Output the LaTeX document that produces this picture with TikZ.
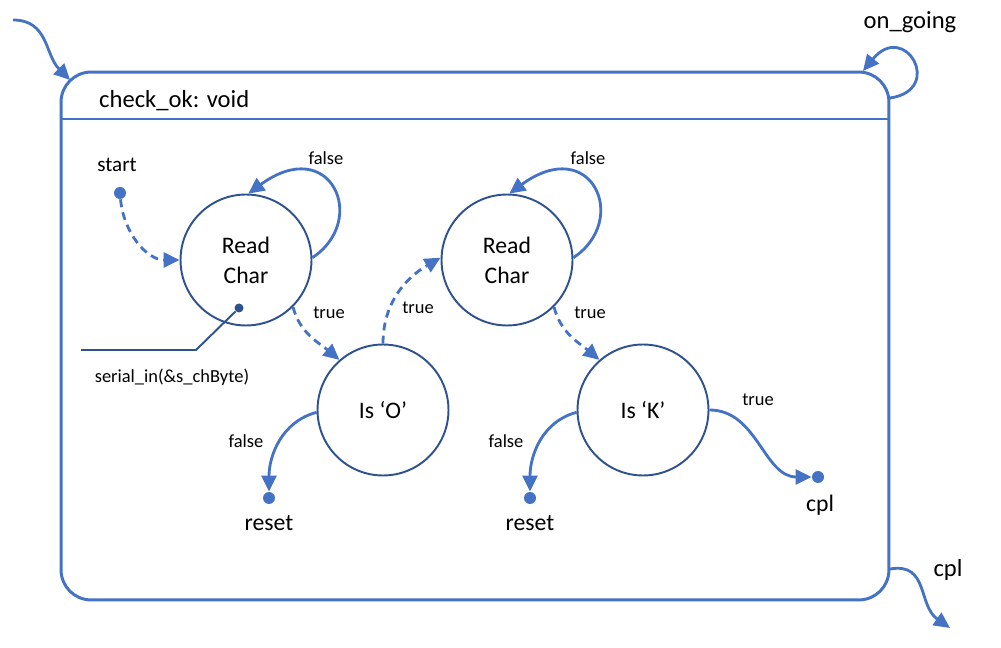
\documentclass[tikz,border=0pt]{standalone}
\usepackage{fontspec}
\setmainfont{Carlito}
\usetikzlibrary{arrows.meta}
\definecolor{lineblue}{RGB}{68,114,196}
\definecolor{ringblue}{RGB}{47,82,143}
\tikzset{
	state/.style={circle,draw=ringblue,line width=1.1pt,minimum size=2.62cm,align=center,font=\fontsize{13.5}{17}\selectfont},
	flow/.style={lineblue,line width=1.6pt,-{Triangle[length=0.32cm,width=0.3cm]}},
	dashflow/.style={flow,dash pattern=on 4.5pt off 3pt},
	pin/.style={circle,fill=lineblue,inner sep=0pt,minimum size=0.24cm},
	small/.style={font=\fontsize{10.5}{12}\selectfont},
	big/.style={font=\fontsize{14}{17}\selectfont}
}
\begin{document}
\begin{tikzpicture}[x=0.02cm,y=-0.02cm]
			\useasboundingbox (0,0) rectangle (1001,648);
			% composite state
			\node[draw=lineblue,line width=1.7pt,rounded corners=0.6cm,minimum width=16.56cm,minimum height=10.56cm] (frame) at (475,336) {};
			\draw[lineblue,line width=1.7pt] (61,119) -- (889,119);
			\node[big,anchor=west] (title) at (93,101) {check\_ok: void};
			\coordinate (entry) at (13,20);
			\coordinate (corner) at (70,80);
			\coordinate (loopout) at (890,98);
			\coordinate (loopin) at (863,71);
			\coordinate (exitout) at (890,569);
			\coordinate (exit) at (950,628);
			\draw[flow] (entry) to[out=0,in=135,looseness=1.1] (corner);
			\draw[flow] (loopout) .. controls (945,90) and (905,20) .. (loopin);
			\node[big] (ongoing) at (910,22) {on\_going};
			\draw[flow] (exitout) to[out=10,in=145,looseness=1.2] (exit);
			\node[big] (cplout) at (948,570) {cpl};
			% states
			\node[state] (rc1) at (246,260) {Read\\Char};
			\node[state] (iso) at (383,410) {Is ‘O’};
			\node[state] (rc2) at (507,260) {Read\\Char};
			\node[state] (isk) at (643,410) {Is ‘K’};
			\node[pin] (start) at (120,193) {};
			\node[font=\fontsize{12}{14}\selectfont] (startlbl) at (117,165) {start};
			\node[pin] (reset1) at (269,498) {};
			\node[font=\fontsize{13.5}{16}\selectfont] (reset1lbl) at (269,523) {reset};
			\node[pin] (reset2) at (530,498) {};
			\node[font=\fontsize{13.5}{16}\selectfont] (reset2lbl) at (530,523) {reset};
			\node[pin] (cpl) at (818,477) {};
			\node[font=\fontsize{13.5}{16}\selectfont] (cpllbl) at (820,505) {cpl};
			% action
			\node[circle,fill=ringblue,inner sep=0pt,minimum size=0.18cm] (rd) at (239,308) {};
			\coordinate (bend) at (196,350);
			\coordinate (lead) at (81,350);
			\draw[ringblue,line width=1.1pt] (rd) -- (bend) -- (lead);
			\node[small] (action) at (172,377) {serial\_in(\&s\_chByte)};
			% transitions
			\draw[dashflow] (start) to[out=-85,in=180] (rc1.west);
			\draw[flow] (rc1.2) .. controls +(57,-38) and +(82,-60) .. (rc1.88);
			\node[small] at (326,158) {false};
			\draw[dashflow] (rc1.-45) to[out=-75,in=140] (iso.131);
			\node[small] at (329,313) {true};
			\draw[flow] (iso.182) to[out=195,in=90] (reset1);
			\node[small] at (246,441) {false};
			\draw[dashflow] (iso.north) to[out=90,in=-150] (rc2.178);
			\node[small] at (418,308) {true};
			\draw[flow] (rc2.2) .. controls +(57,-38) and +(82,-60) .. (rc2.88);
			\node[small] at (588,158) {false};
			\draw[dashflow] (rc2.-45) to[out=-75,in=140] (isk.131);
			\node[small] at (590,313) {true};
			\draw[flow] (isk.182) to[out=195,in=90] (reset2);
			\node[small] at (506,441) {false};
			\draw[flow] (isk.east) to[out=0,in=180] (cpl);
			\node[small] at (758,400) {true};
		\end{tikzpicture}
\end{document}
